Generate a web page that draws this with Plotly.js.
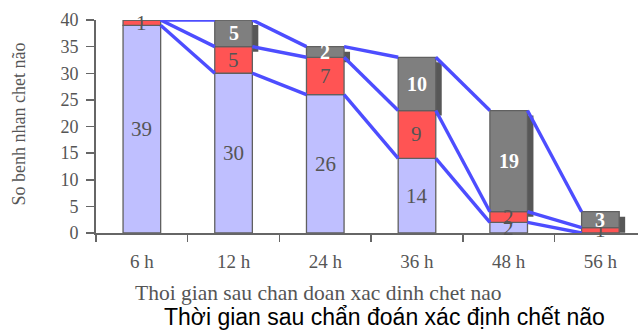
<!DOCTYPE html>
<html><head><meta charset="utf-8">
<script src="https://cdn.plot.ly/plotly-3.0.1.min.js"></script>
<style>html,body{margin:0;padding:0;background:#fff}#chart{width:638px;height:333px}</style>
</head><body><div id="chart"></div>
<script>
const categories = ['6 h','12 h','24 h','36 h','48 h','56 h'];
const lavender = [39, 30, 26, 14, 2, 0];
const red = [1, 5, 7, 9, 2, 1];
const gray = [0, 5, 2, 10, 19, 3];
const yTicks = [0, 5, 10, 15, 20, 25, 30, 35, 40];
const yTitle = 'So benh nhan chet não';
const xTitleGray = 'Thoi gian sau chan doan xac dinh chet nao';
const xTitleBlack = 'Thời gian sau chẩn đoán xác định chết não';

const idx = categories.map((_, i) => i);
const BW = 0.41;
const base1 = lavender.map(() => 0);
const base2 = lavender.slice();
const base3 = lavender.map((v, i) => v + red[i]);
const top3 = base3.map((v, i) => v + gray[i]);
const serif = 'Liberation Serif, Times New Roman, serif';
const barLine = {color: '#606060', width: 1.3};

const traces = [];
// 3D shadow of gray segments
traces.push({type: 'bar', x: idx, y: gray, base: base3.map(b => b - 0.95), width: BW, offset: -BW / 2 + 0.065,
  marker: {color: '#575757', line: {width: 0}}, hoverinfo: 'skip', showlegend: false});
traces.push({type: 'bar', x: idx, y: lavender, base: base1, width: BW, offset: -BW / 2,
  marker: {color: '#BFBFFF', line: barLine}, showlegend: false});
traces.push({type: 'bar', x: idx, y: red, base: base2, width: BW, offset: -BW / 2,
  marker: {color: '#FF5454', line: barLine}, showlegend: false});
traces.push({type: 'bar', x: idx, y: gray, base: base3, width: BW, offset: -BW / 2,
  marker: {color: '#7F7F7F', line: barLine}, showlegend: false});

// series lines connecting stack tops
[lavender, base3, top3].forEach(tops => {
  const xs = [], ys = [];
  for (let i = 0; i < categories.length - 1; i++) {
    xs.push(i + BW / 2, i + 1 - BW / 2, null);
    ys.push(tops[i], tops[i + 1], null);
  }
  traces.push({type: 'scatter', mode: 'lines', x: xs, y: ys, xaxis: 'x2', yaxis: 'y',
    line: {color: '#4D4DFF', width: 3.4}, cliponaxis: false, hoverinfo: 'skip', showlegend: false});
});

const annotations = [];
idx.forEach(i => {
  if (lavender[i] > 0) annotations.push({x: i, y: base1[i] + lavender[i] / 2, text: String(lavender[i]),
    font: {family: serif, size: 21, color: '#555'}});
  if (red[i] > 0) annotations.push({x: i, y: base2[i] + red[i] / 2, text: String(red[i]),
    font: {family: serif, size: 21, color: '#555'}});
  if (gray[i] > 0) annotations.push({x: i, y: base3[i] + gray[i] / 2, text: '<b>' + gray[i] + '</b>',
    font: {family: serif, size: 20, color: '#ffffff'}});
});
annotations.forEach(a => { a.xref = 'x'; a.yref = 'y'; a.showarrow = false; });
annotations.push({xref: 'paper', yref: 'paper', x: -0.142, y: 0.51, xanchor: 'center', yanchor: 'middle',
  text: yTitle, textangle: -90, showarrow: false, font: {family: serif, size: 18, color: '#555'}});
annotations.push({xref: 'paper', yref: 'paper', x: 0.411, y: -0.284, xanchor: 'center', yanchor: 'middle',
  text: xTitleGray, showarrow: false, font: {family: serif, size: 21.5, color: '#555'}});
annotations.push({xref: 'paper', yref: 'paper', x: 0.532, y: -0.395, xanchor: 'center', yanchor: 'middle',
  text: xTitleBlack, showarrow: false, font: {family: 'Liberation Sans, Arial, sans-serif', size: 23, color: '#000'}});

const xr = [-0.5, 5.41];
const layout = {
  width: 638, height: 333,
  margin: {l: 96, r: 0, t: 20, b: 100},
  paper_bgcolor: '#fff', plot_bgcolor: '#fff',
  barmode: 'overlay',
  xaxis: {range: xr, tickvals: [-0.5, 0.5, 1.5, 2.5, 3.5, 4.5], ticktext: ['', '', '', '', '', ''],
    ticks: 'outside', ticklen: 7, tickwidth: 1.5, tickcolor: '#666', showline: true, linecolor: '#666', linewidth: 1.8,
    showgrid: false, zeroline: false, fixedrange: true},
  xaxis2: {range: xr, overlaying: 'x', anchor: 'y', side: 'bottom', tickvals: idx, ticktext: categories,
    ticks: '', ticklen: 0, showline: false, showgrid: false, zeroline: false, ticklabelstandoff: 15,
    tickfont: {family: serif, size: 19, color: '#555'}},
  yaxis: {range: [0, 40], tickvals: yTicks, ticks: 'outside', ticklen: 8, tickwidth: 1.5, tickcolor: '#666',
    showline: true, linecolor: '#666', linewidth: 1.8, showgrid: false, zeroline: false, ticklabelstandoff: 4,
    tickfont: {family: serif, size: 18, color: '#555'}},
  annotations: annotations
};
Plotly.newPlot('chart', traces, layout, {displayModeBar: false, staticPlot: true});
</script></body></html>
